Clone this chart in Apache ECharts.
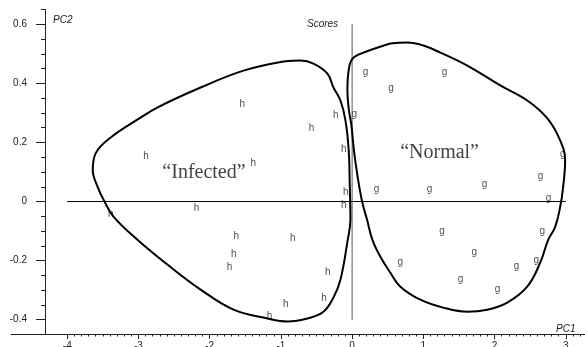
<!DOCTYPE html>
<html>
<head>
<meta charset="utf-8">
<script src="https://cdn.jsdelivr.net/npm/echarts@6/dist/echarts.min.js"></script>
<style>
  html, body { margin: 0; padding: 0; background: #fff; }
  #chart { width: 585px; height: 347px; }
</style>
</head>
<body>
<div id="chart"></div>
<script>
"use strict";
// PCA scores (PC1, PC2)
var infectedScores = [
    [-1.543, 0.328], [-0.571, 0.247], [-0.230, 0.293], [-2.895, 0.153],
    [-1.389, 0.131], [-0.118, 0.176], [-0.090, 0.032], [-0.118, -0.012],
    [-3.390, -0.043], [-2.184, -0.024], [-1.627, -0.117], [-0.833, -0.124],
    [-1.661, -0.177], [-1.721, -0.222], [-0.342, -0.240], [-0.931, -0.347],
    [-0.393, -0.328], [-1.160, -0.387]
];
var normalScores = [
    [0.032, 0.297], [0.187, 0.438], [0.547, 0.385], [1.299, 0.438],
    [2.959, 0.159], [2.645, 0.084], [1.860, 0.059], [1.088, 0.043],
    [0.341, 0.041], [2.757, 0.012], [1.262, -0.102], [2.669, -0.102],
    [1.715, -0.171], [0.677, -0.207], [2.309, -0.218], [2.585, -0.200],
    [1.523, -0.262], [2.042, -0.296]
];

// hand drawn group outlines
var infectedOutline = [
    [-0.964, 0.474], [-0.725, 0.477], [-0.543, 0.467], [-0.347, 0.433],
    [-0.262, 0.386], [-0.164, 0.342], [-0.094, 0.275], [-0.048, 0.174],
    [-0.034, 0.062], [-0.024, -0.062], [-0.062, -0.130], [-0.164, -0.265],
    [-0.262, -0.325], [-0.403, -0.373], [-0.627, -0.396], [-0.907, -0.406],
    [-1.188, -0.396], [-1.665, -0.366], [-2.127, -0.298], [-2.590, -0.214],
    [-3.011, -0.130], [-3.348, -0.052], [-3.488, 0.005], [-3.572, 0.049],
    [-3.642, 0.106], [-3.600, 0.164], [-3.390, 0.217], [-3.011, 0.278],
    [-2.730, 0.319], [-2.127, 0.386], [-1.525, 0.443], [-0.964, 0.474]
];
var normalOutline = [
    [0.537, 0.535], [0.776, 0.538], [1.000, 0.528], [1.239, 0.504],
    [1.617, 0.460], [2.080, 0.393], [2.459, 0.342], [2.739, 0.282],
    [2.921, 0.207], [2.991, 0.140], [2.963, 0.049], [2.921, -0.019],
    [2.851, -0.086], [2.753, -0.130], [2.641, -0.207], [2.459, -0.288],
    [2.178, -0.342], [1.898, -0.366], [1.617, -0.373], [1.280, -0.359],
    [0.958, -0.332], [0.677, -0.288], [0.537, -0.241], [0.397, -0.187],
    [0.285, -0.130], [0.210, -0.062], [0.140, 0.000], [0.074, 0.089],
    [0.025, 0.174], [-0.010, 0.258], [-0.045, 0.309], [-0.066, 0.376],
    [-0.052, 0.438], [-0.010, 0.478], [0.088, 0.497], [0.537, 0.535]
];

var groupNames = ['\u201cInfected\u201d', '\u201cNormal\u201d'];
var groupNamePos = [[-2.080, 0.096], [1.228, 0.164]];

var zeroLineH = [[-4, 0], [3, 0]];
var zeroLineV = [[0, -0.4], [0, 0.6]];

var xMajor = [-4, -3, -2, -1, 0, 1, 2, 3];
var xTickLabels = ['-4', '-3', '-2', '-1', '0', '1', '2', '3'];
var yMajor = [-0.4, -0.2, 0, 0.2, 0.4, 0.6];
var yTickLabels = ['-0.4', '-0.2', '0', '0.2', '0.4', '0.6'];

var xMinor = [];
for (var i = -40; i <= 32; i++) xMinor.push(i / 10);
var yMinor = [];
for (var j = -9; j <= 13; j++) yMinor.push(j / 20);

var sans = "'Liberation Sans', Arial, sans-serif";
var axisColor = '#222';

function label(v, values, texts) {
    for (var k = 0; k < values.length; k++) {
        if (Math.abs(values[k] - v) < 1e-6) return texts[k];
    }
    return '';
}

var chart = echarts.init(document.getElementById('chart'));
var xBase = { type: 'value', min: -4.79, max: 3.27, position: 'bottom', splitLine: { show: false } };
var yBase = { type: 'value', min: -0.45, max: 0.65, position: 'left', offset: -34, splitLine: { show: false } };

var option = {
    animation: false,
    title: {
        text: 'Scores', left: 302, top: 14,
        textStyle: { fontFamily: sans, fontSize: 10, fontStyle: 'italic', fontWeight: 'normal', color: '#222' }
    },
    graphic: [
        { type: 'text', left: 53, top: 15, style: { text: 'PC2', fontFamily: sans, fontSize: 10, fontStyle: 'italic', fill: '#222' } },
        { type: 'text', left: 556, top: 324, style: { text: 'PC1', fontFamily: sans, fontSize: 10, fontStyle: 'italic', fill: '#222' } }
    ],
    grid: { left: 11, right: 0, top: 9.5, bottom: 12.5, containLabel: false, outerBoundsMode: 'none' },
    xAxis: [
        echarts.util.merge({
            axisLine: { onZero: false, lineStyle: { color: axisColor, width: 1 } },
            axisTick: { customValues: xMajor, length: 4.5, lineStyle: { color: axisColor } },
            axisLabel: {
                customValues: xMajor, margin: 7, fontFamily: sans, fontSize: 10, color: '#222',
                formatter: function (v) { return label(v, xMajor, xTickLabels); }
            }
        }, xBase),
        echarts.util.merge({
            axisLine: { show: false, onZero: false },
            axisTick: { customValues: xMinor, length: 2, lineStyle: { color: axisColor } },
            axisLabel: { show: false }
        }, xBase)
    ],
    yAxis: [
        echarts.util.merge({
            axisLine: { onZero: false, lineStyle: { color: axisColor, width: 1 } },
            axisTick: { customValues: yMajor, length: 9, lineStyle: { color: axisColor } },
            axisLabel: {
                customValues: yMajor, margin: 18, fontFamily: sans, fontSize: 10, color: '#222',
                formatter: function (v) { return label(v, yMajor, yTickLabels); }
            }
        }, yBase),
        echarts.util.merge({
            axisLine: { show: false, onZero: false },
            axisTick: { customValues: yMinor, length: 4, lineStyle: { color: axisColor } },
            axisLabel: { show: false }
        }, yBase)
    ],
    series: [
        {
            type: 'line', data: zeroLineH, symbol: 'none', silent: true,
            lineStyle: { color: '#000', width: 1 }
        },
        {
            type: 'line', data: zeroLineV, symbol: 'none', silent: true,
            lineStyle: { color: '#555', width: 1 }
        },
        {
            type: 'line', data: infectedOutline, symbol: 'none', smooth: 0.4,
            lineStyle: { color: '#000', width: 2 }
        },
        {
            type: 'line', data: normalOutline, symbol: 'none', smooth: 0.4,
            lineStyle: { color: '#000', width: 2 }
        },
        {
            type: 'scatter', data: infectedScores, symbolSize: 1,
            itemStyle: { color: 'rgba(0,0,0,0)' },
            label: { show: true, position: 'inside', formatter: 'h', fontFamily: sans, fontSize: 10, color: '#222' }
        },
        {
            type: 'scatter', data: normalScores, symbolSize: 1,
            itemStyle: { color: 'rgba(0,0,0,0)' },
            label: { show: true, position: 'inside', formatter: 'g', fontFamily: sans, fontSize: 10, color: '#222' }
        },
        {
            type: 'scatter', symbolSize: 1,
            data: groupNamePos.map(function (p, k) { return { value: p, name: groupNames[k] }; }),
            itemStyle: { color: 'rgba(0,0,0,0)' },
            label: {
                show: true, position: 'inside', formatter: '{b}',
                fontFamily: "'Liberation Serif', 'Times New Roman', serif", fontSize: 20, color: '#111'
            }
        }
    ]
};

chart.setOption(option);
</script>
</body>
</html>
